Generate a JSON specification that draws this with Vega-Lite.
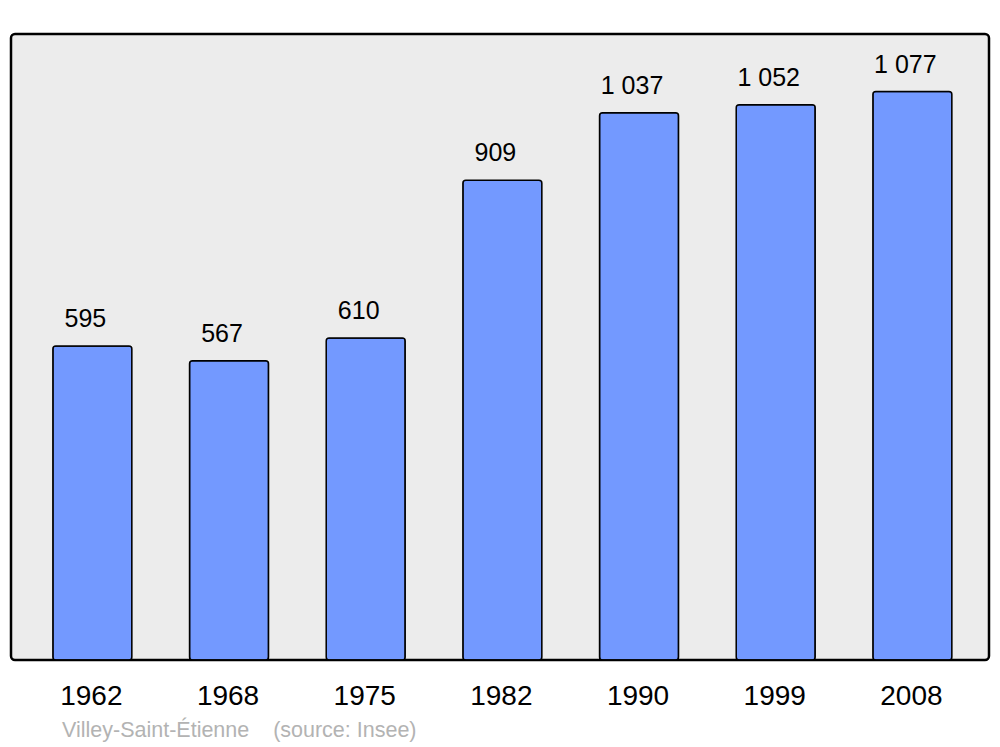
{
  "$schema": "https://vega.github.io/schema/vega-lite/v6.json",
  "width": 978,
  "height": 626,
  "autosize": {"type": "none"},
  "padding": {"left": 11, "top": 34, "right": 11, "bottom": 87},
  "background": "#ffffff",
  "config": {
    "view": {"fill": "#ececec", "stroke": "#000000", "strokeWidth": 2.5, "cornerRadius": 4},
    "font": "Liberation Sans"
  },
  "title": {
    "text": "Villey-Saint-Étienne\u00a0\u00a0\u00a0\u00a0(source: Insee)",
    "orient": "bottom",
    "anchor": "start",
    "dx": 51,
    "offset": 10,
    "fontSize": 21.5,
    "fontWeight": "normal",
    "color": "#b3b3b3",
    "font": "Liberation Sans"
  },
  "data": {
    "values": [
      {"year": "1962", "pop": 595, "label": "595"},
      {"year": "1968", "pop": 567, "label": "567"},
      {"year": "1975", "pop": 610, "label": "610"},
      {"year": "1982", "pop": 909, "label": "909"},
      {"year": "1990", "pop": 1037, "label": "1\u00a0037"},
      {"year": "1999", "pop": 1052, "label": "1\u00a0052"},
      {"year": "2008", "pop": 1077, "label": "1\u00a0077"}
    ]
  },
  "encoding": {
    "x": {
      "field": "year",
      "type": "ordinal",
      "sort": null,
      "scale": {"paddingInner": 0.422, "paddingOuter": 0.289, "align": 0.53},
      "axis": {
        "title": null,
        "domain": false,
        "ticks": false,
        "labelAngle": 0,
        "labelFontSize": 28,
        "labelColor": "#000000",
        "labelPadding": 44,
        "labelOffset": -1,
        "labelBaseline": "alphabetic",
        "labelFont": "Liberation Sans"
      }
    },
    "y": {
      "field": "pop",
      "type": "quantitative",
      "scale": {"domain": [0, 1186], "nice": false, "zero": true},
      "axis": null
    }
  },
  "layer": [
    {
      "mark": {"type": "bar", "fill": "#7399ff", "stroke": "#000000", "strokeWidth": 1.5, "cornerRadius": 3}
    },
    {
      "mark": {"type": "text", "baseline": "alphabetic", "dy": -19, "dx": -7, "fontSize": 25, "color": "#000000", "font": "Liberation Sans"},
      "encoding": {"text": {"field": "label"}}
    }
  ]
}
